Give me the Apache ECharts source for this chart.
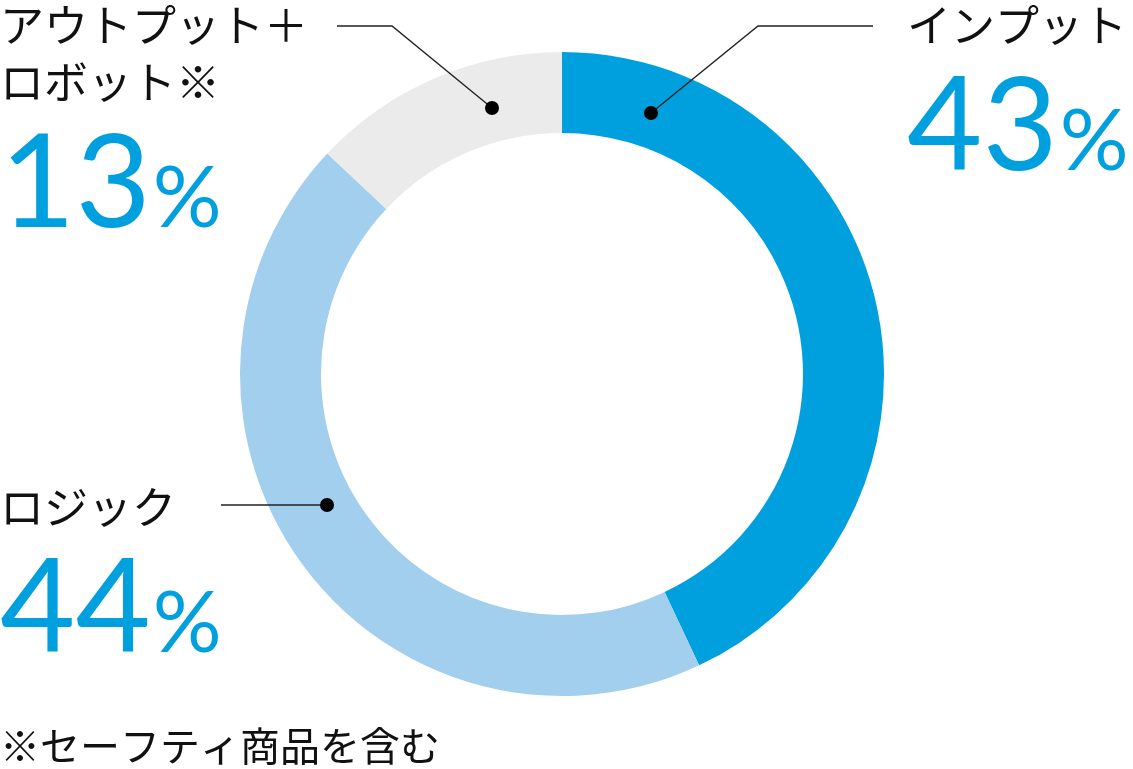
<!DOCTYPE html>
<html>
<head>
<meta charset="utf-8">
<style>
html,body{margin:0;padding:0;background:#fff;}
#chart{width:1133px;height:769px;}
</style>
<script src="https://cdn.jsdelivr.net/npm/echarts@6/dist/echarts.min.js"></script>
</head>
<body>
<div id="chart"></div>
<script>
// ---- data ----
const categories = ['インプット', 'ロジック', 'アウトプット＋\nロボット※'];
const shares = [43, 44, 13];
const footnote = '※セーフティ商品を含む';

// ---- styling / layout ----
const sliceColors = ['#00A0DE', '#A3CFEF', '#EAEBEA'];
const accent = '#00A0DE';
const cjk = '"Noto Sans CJK JP", "Noto Sans", sans-serif';
const numFont = 'Lato, Roboto, sans-serif';
// label anchor (top-left of text), leader line from dot on ring to label
const labelLayouts = [
  { x: 907, y: -3.5, line: [[651, 113], [758, 26], [873, 26]] },
  { x: 0, y: 478.5, line: [[327, 505], [221, 505]] },
  { x: 0, y: -3.5, line: [[492, 108], [392, 26], [337, 26]] }
];

const chart = echarts.init(document.getElementById('chart'), null, { renderer: 'canvas' });

const graphics = [];
labelLayouts.forEach(L => {
  graphics.push({
    type: 'polyline',
    shape: { points: L.line },
    style: { stroke: '#222', lineWidth: 1.4, fill: null },
    z: 100
  });
  graphics.push({
    type: 'circle',
    shape: { cx: L.line[0][0], cy: L.line[0][1], r: 7 },
    style: { fill: '#000' },
    z: 101
  });
});

const option = {
  animation: false,
  title: {
    text: footnote,
    left: 0,
    top: 723,
    padding: 0,
    textStyle: { fontFamily: cjk, fontSize: 40, fontWeight: 'normal', color: '#111', lineHeight: 46 }
  },
  series: [{
    type: 'pie',
    center: [562, 374],
    radius: [241, 322],
    startAngle: 90,
    clockwise: true,
    silent: true,
    avoidLabelOverlap: false,
    itemStyle: { borderWidth: 0 },
    emphasis: { disabled: true },
    data: categories.map((c, i) => ({ name: c, value: shares[i], itemStyle: { color: sliceColors[i] } })),
    label: {
      show: true,
      position: 'outside',
      formatter: p => '{name|' + p.name + '}\n{num|' + p.value + '}{pct|%}',
      rich: {
        name: { fontFamily: cjk, fontSize: 44, lineHeight: 57, color: '#111', align: 'left' },
        num: { fontFamily: numFont, fontWeight: 'normal', fontSize: 130, lineHeight: 150, color: accent },
        pct: { fontFamily: numFont, fontWeight: 'normal', fontSize: 86, lineHeight: 150, color: accent, padding: [28, 0, 0, 2] }
      }
    },
    labelLine: { show: false },
    labelLayout: function (params) {
      const L = labelLayouts[params.dataIndex];
      return { x: L.x, y: L.y, align: 'left', verticalAlign: 'top' };
    }
  }],
  graphic: graphics
};
chart.setOption(option);
</script>
</body>
</html>
